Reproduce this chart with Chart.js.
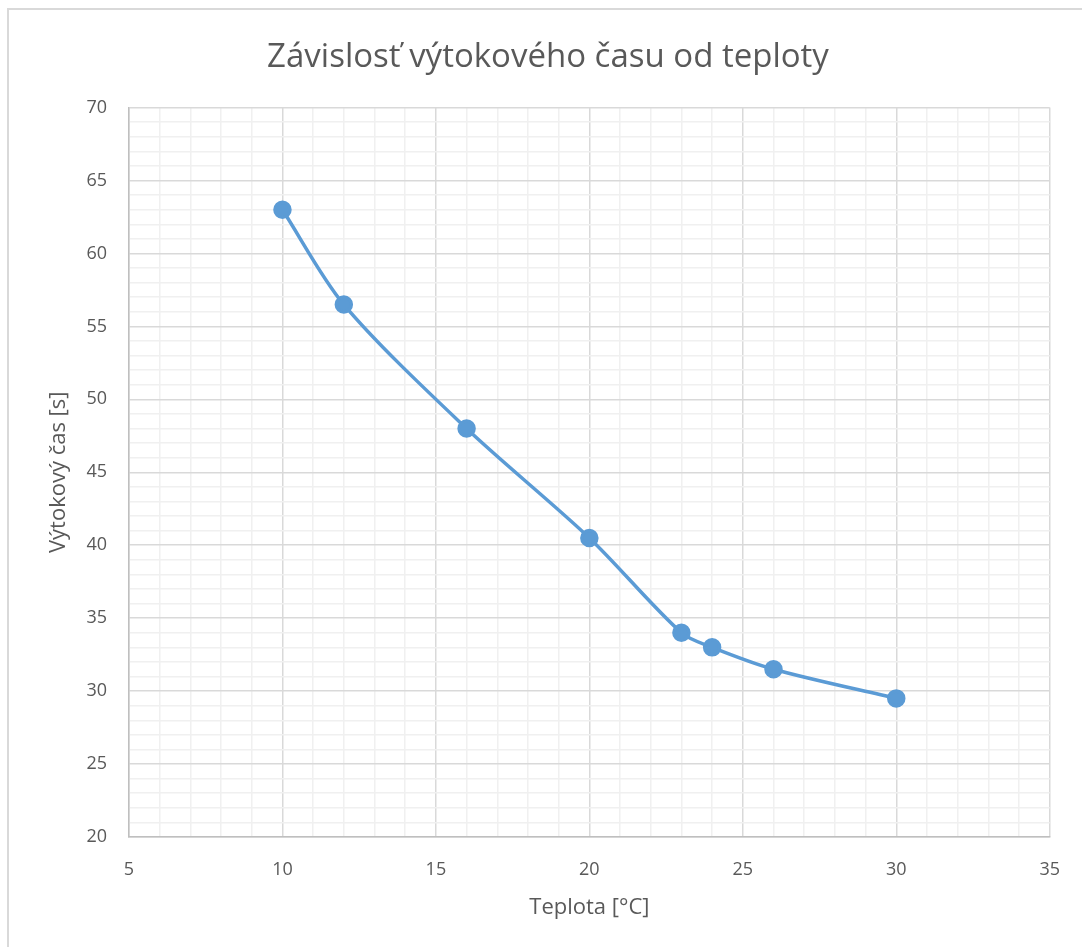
<!DOCTYPE html>
<html>
<head>
<meta charset="utf-8">
<script src="https://cdn.jsdelivr.net/npm/chart.js@4"></script>
<style>
  html, body { margin: 0; padding: 0; background: #fff; overflow: hidden; }
  #wrap { position: relative; width: 1082px; height: 947px; }
  #frame { position: absolute; left: 7px; top: 8px; width: 1090px; height: 960px;
           border-top: 2px solid #d9d9d9; border-left: 2px solid #d9d9d9; }
  canvas { position: absolute; left: 0; top: 0; }
</style>
</head>
<body>
<div id="wrap">
  <div id="frame"></div>
  <canvas id="flowChart" width="1082" height="947"></canvas>
</div>
<script>
// Závislosť výtokového času od teploty
var temps = [10, 12, 16, 20, 23, 24, 26, 30];
var times = [63, 56.5, 48, 40.5, 34, 33, 31.5, 29.5];
var xRange = [5, 35];
var yRange = [20, 70];
var majorStep = 5;

var points = temps.map(function(t, i) { return { x: t, y: times[i] }; });

function gridColor(ctx) {
  if (!ctx.tick) return "#f2f2f2";
  return ctx.tick.value % majorStep === 0 ? "#d9d9d9" : "#f0f0f0";
}
function majorLabel(v) {
  return v % majorStep === 0 ? v : "";
}

var ctx = document.getElementById("flowChart").getContext("2d");
var myChart = new Chart(ctx, {
  type: "scatter",
  data: {
    datasets: [
      {
        label: "Výtokový čas",
        data: points,
        showLine: true,
        tension: 0.3,
        borderColor: "#5b9bd5",
        backgroundColor: "#5b9bd5",
        borderWidth: 3.5,
        pointRadius: 7.5,
        pointHoverRadius: 7.5,
      },
    ],
  },
  options: {
    responsive: false,
    animation: false,
    layout: { padding: { left: 46, right: 32, top: 0, bottom: 0 } },
    plugins: {
      legend: { display: false },
      tooltip: { enabled: false },
      title: {
        display: true,
        text: "Závislosť výtokového času od teploty",
        color: "#595959",
        font: { family: "Open Sans", size: 33, weight: "normal", lineHeight: 1.2 },
        padding: { top: 38, bottom: 30 },
      },
    },
    scales: {
      x: {
        type: "linear",
        min: xRange[0],
        max: xRange[1],
        ticks: {
          stepSize: 1,
          autoSkip: false,
          maxRotation: 0,
          padding: 22,
          color: "#595959",
          font: { family: "Open Sans", size: 18 },
          callback: majorLabel,
        },
        grid: { color: gridColor, lineWidth: 1.5, drawTicks: false },
        border: { color: "#bfbfbf", width: 1.5 },
        title: {
          display: true,
          text: "Teplota [°C]",
          color: "#595959",
          font: { family: "Open Sans", size: 22 },
          padding: { top: 0, bottom: 26 },
        },
        afterFit: function(scale) { scale.height = 110; },
      },
      y: {
        type: "linear",
        min: yRange[0],
        max: yRange[1],
        ticks: {
          stepSize: 1,
          autoSkip: false,
          padding: 22,
          color: "#595959",
          font: { family: "Open Sans", size: 18 },
          callback: majorLabel,
        },
        grid: { color: gridColor, lineWidth: 1.5, drawTicks: false },
        border: { color: "#bfbfbf", width: 1.5 },
        title: {
          display: true,
          text: "Výtokový čas [s]",
          color: "#595959",
          font: { family: "Open Sans", size: 22 },
          padding: { top: 0, bottom: 0 },
        },
        afterFit: function(scale) { scale.width = 83; },
      },
    },
  },
});
</script>
</body>
</html>
